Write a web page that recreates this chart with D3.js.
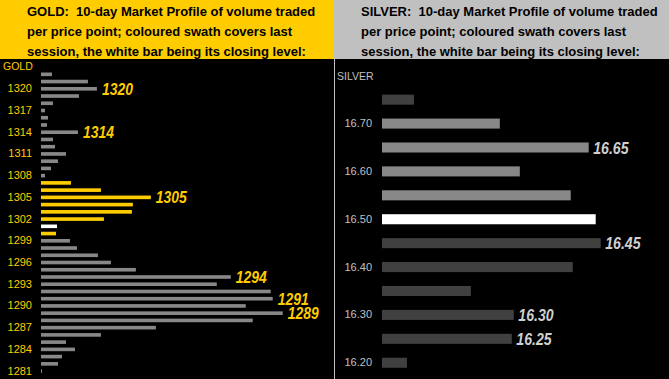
<!DOCTYPE html>
<html>
<head>
<meta charset="utf-8">
<script src="https://cdn.jsdelivr.net/npm/d3@7"></script>
<style>
  body { margin: 0; background: #000; }
  svg { display: block; }
</style>
</head>
<body>
<svg id="chart"></svg>
<script>
// Gold: price levels (top to bottom) and 10-day volume at each level
const goldPrices = d3.range(1322, 1280, -1);
const goldVolume = [11, 47, 56, 38, 12, 4, 7, 6, 37, 12, 14, 25, 17, 10,
    4, 30, 60, 110, 92, 91, 63, 16, 15, 29, 36, 57, 70, 95,
    190, 176, 230, 232, 205, 242, 212, 115, 60, 25, 34, 21, 17, 1];
const goldTicks = [1320, 1317, 1314, 1311, 1308, 1305, 1302, 1299, 1296, 1293, 1290, 1287, 1284, 1281];
const goldLabels = [1320, 1314, 1305, 1294, 1291, 1289];
const goldSession = [1300, 1307];
const goldClose = 1301;

// Silver
const silverPrices = ["16.75", "16.70", "16.65", "16.60", "16.55", "16.50",
    "16.45", "16.40", "16.35", "16.30", "16.25", "16.20"];
const silverVolume = [32, 118, 207, 138, 189, 214, 219, 191, 89, 132, 130, 25];
const silverTicks = ["16.70", "16.60", "16.50", "16.40", "16.30", "16.20"];
const silverLabels = ["16.65", "16.45", "16.30", "16.25"];
const silverSession = [16.50, 16.70];
const silverClose = "16.50";

const width = 669;
const height = 379;
const headerH = 59;
const splitX = 334;

const svg = d3.select("#chart")
    .attr("width", width)
    .attr("height", height)
    .style("font-family", "'Liberation Sans', Arial, sans-serif");

svg.append("rect")
    .attr("width", width)
    .attr("height", height)
    .attr("fill", "#000");

function header(x0, w, fill, lines) {
    svg.append("rect")
        .attr("x", x0)
        .attr("y", 0)
        .attr("width", w)
        .attr("height", headerH)
        .attr("fill", fill);
    lines.forEach((t, i) => {
        svg.append("text")
            .attr("x", x0 + 27)
            .attr("y", 15.5 + i * 20)
            .style("white-space", "pre")
            .style("font-size", "13px")
            .style("font-weight", "bold")
            .attr("fill", "#000")
            .text(t);
    });
}

header(0, splitX, "#ffcc00", [
    "GOLD:  10-day Market Profile of volume traded",
    "per price point; coloured swath covers last",
    "session, the white bar being its closing level:"
]);
header(splitX, width - splitX, "#c0c0c0", [
    "SILVER:  10-day Market Profile of volume traded",
    "per price point; coloured swath covers last",
    "session, the white bar being its closing level:"
]);

// divider
svg.append("line")
    .attr("x1", splitX + 0.5)
    .attr("x2", splitX + 0.5)
    .attr("y1", headerH)
    .attr("y2", height)
    .attr("stroke", "#c0c0c0")
    .attr("stroke-width", 1);

// narrow bold italic call-outs (no narrow font installed, so squeeze)
function callout(sel, fill) {
    sel.attr("dy", "0.36em")
        .attr("fill", fill)
        .attr("lengthAdjust", "spacingAndGlyphs")
        .attr("textLength", d => {
            const s = String(d.price);
            const dots = s.split(".").length - 1;
            return (s.length - dots) * 7.75 + dots * 4.3;
        })
        .style("font-size", "17px")
        .style("font-weight", "bold")
        .style("font-style", "italic")
        .text(d => d.price);
}

// ---------- GOLD ----------
const gold = goldPrices.map((p, i) => ({ price: p, vol: goldVolume[i] }));

const gy = d3.scaleBand()
    .domain(goldPrices)
    .range([70.7, 374.7])
    .paddingInner(0.5)
    .paddingOuter(0.25);

const gx = d3.scaleLinear().domain([0, 242]).range([41, 282.7]);

svg.append("g")
    .selectAll("rect")
    .data(gold)
    .enter()
    .append("rect")
    .attr("x", gx(0))
    .attr("y", d => gy(d.price))
    .attr("width", d => Math.max(gx(d.vol) - gx(0), 0.7))
    .attr("height", gy.bandwidth())
    .attr("fill", d => {
        if (d.price === goldClose) return "#ffffff";
        if (d.price >= goldSession[0] && d.price <= goldSession[1]) return "#ffcc00";
        return "#888888";
    });

const gAxis = svg.append("g")
    .attr("transform", `translate(${gx(0)},0)`)
    .call(d3.axisLeft(gy).tickValues(goldTicks).tickSize(0).tickPadding(9));
gAxis.select(".domain").remove();
gAxis.selectAll("text")
    .attr("fill", "#ffcc00")
    .style("font-size", "11px")
    .style("font-family", "'Liberation Sans', Arial, sans-serif");

svg.append("text")
    .attr("x", 3)
    .attr("y", 70)
    .attr("fill", "#ffcc00")
    .style("font-size", "10.5px")
    .text("GOLD");

svg.append("g")
    .selectAll("text")
    .data(gold.filter(d => goldLabels.includes(d.price)))
    .enter()
    .append("text")
    .attr("x", d => gx(d.vol) + 5)
    .attr("y", d => gy(d.price) + gy.bandwidth() / 2)
    .call(callout, "#ffcc00");

// ---------- SILVER ----------
const silver = silverPrices.map((p, i) => ({ price: p, vol: silverVolume[i] }));

const sy = d3.scaleBand()
    .domain(silverPrices)
    .range([87.7, 374.7])
    .paddingInner(0.58)
    .paddingOuter(0.29);

const sx = d3.scaleLinear().domain([0, 219]).range([382, 600.7]);

svg.append("g")
    .selectAll("rect")
    .data(silver)
    .enter()
    .append("rect")
    .attr("x", sx(0))
    .attr("y", d => sy(d.price))
    .attr("width", d => sx(d.vol) - sx(0))
    .attr("height", sy.bandwidth())
    .attr("fill", d => {
        if (d.price === silverClose) return "#ffffff";
        const p = +d.price;
        if (p >= silverSession[0] && p <= silverSession[1]) return "#888888";
        return "#404040";
    });

const sAxis = svg.append("g")
    .attr("transform", `translate(${sx(0)},0)`)
    .call(d3.axisLeft(sy).tickValues(silverTicks).tickSize(0).tickPadding(10));
sAxis.select(".domain").remove();
sAxis.selectAll("text")
    .attr("fill", "#c0c0c0")
    .style("font-size", "11px")
    .style("font-family", "'Liberation Sans', Arial, sans-serif");

svg.append("text")
    .attr("x", 337)
    .attr("y", 80)
    .attr("fill", "#c0c0c0")
    .style("font-size", "10.5px")
    .text("SILVER");

svg.append("g")
    .selectAll("text")
    .data(silver.filter(d => silverLabels.includes(d.price)))
    .enter()
    .append("text")
    .attr("x", d => sx(d.vol) + 4.5)
    .attr("y", d => sy(d.price) + sy.bandwidth() / 2)
    .call(callout, "#d0d0d0");
</script>
</body>
</html>
